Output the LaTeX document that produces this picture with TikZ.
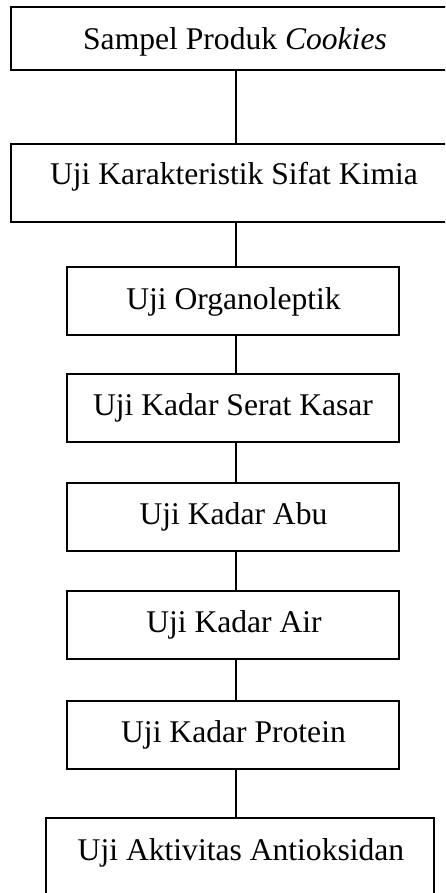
\documentclass[tikz,border=0pt]{standalone}
\usepackage{fontspec}
\setmainfont{Liberation Serif}
\begin{document}
\begin{tikzpicture}[x=1pt,y=-1pt,
  box/.style={draw=black,line width=1.4pt,fill=none,inner sep=0pt,rectangle},
  lbl/.style={anchor=base,inner sep=0pt,font=\fontsize{31.6}{38}\selectfont},
  conn/.style={draw=black,line width=1.4pt}]
\useasboundingbox (0,0) rectangle (445,893);
\clip (0,0) rectangle (445,893);
\coordinate (lx) at (236,0);
\node[box,minimum width=449pt,minimum height=63pt] (b1) at (235.5,38.5) {};
\node[box,minimum width=449pt,minimum height=78pt] (b2) at (235.5,183) {};
\node[box,minimum width=332pt,minimum height=68pt] (b3) at (233,301) {};
\node[box,minimum width=332pt,minimum height=68pt] (b4) at (233,408) {};
\node[box,minimum width=332pt,minimum height=68pt] (b5) at (233,517) {};
\node[box,minimum width=332pt,minimum height=68pt] (b6) at (233,625) {};
\node[box,minimum width=332pt,minimum height=68pt] (b7) at (233,735) {};
\node[box,minimum width=388pt,minimum height=90pt] (b8) at (240,863) {};
\node[lbl] (t1) at (235,50) {Sampel Produk \textit{Cookies}};
\node[lbl] (t2) at (234,185) {Uji Karakteristik Sifat Kimia};
\node[lbl] (t3) at (233.5,309) {Uji Organoleptik};
\node[lbl] (t4) at (233,415) {Uji Kadar Serat Kasar};
\node[lbl] (t5) at (233.5,524) {Uji Kadar Abu};
\node[lbl] (t6) at (234,632) {Uji Kadar Air};
\node[lbl] (t7) at (233.5,742) {Uji Kadar Protein};
\node[lbl] (t8) at (241,860) {Uji Aktivitas Antioksidan};
\draw[conn] (b1.south -| lx) -- (b2.north -| lx);
\draw[conn] (b2.south -| lx) -- (b3.north -| lx);
\draw[conn] (b3.south -| lx) -- (b4.north -| lx);
\draw[conn] (b4.south -| lx) -- (b5.north -| lx);
\draw[conn] (b5.south -| lx) -- (b6.north -| lx);
\draw[conn] (b6.south -| lx) -- (b7.north -| lx);
\draw[conn] (b7.south -| lx) -- (b8.north -| lx);
\end{tikzpicture}
\end{document}
